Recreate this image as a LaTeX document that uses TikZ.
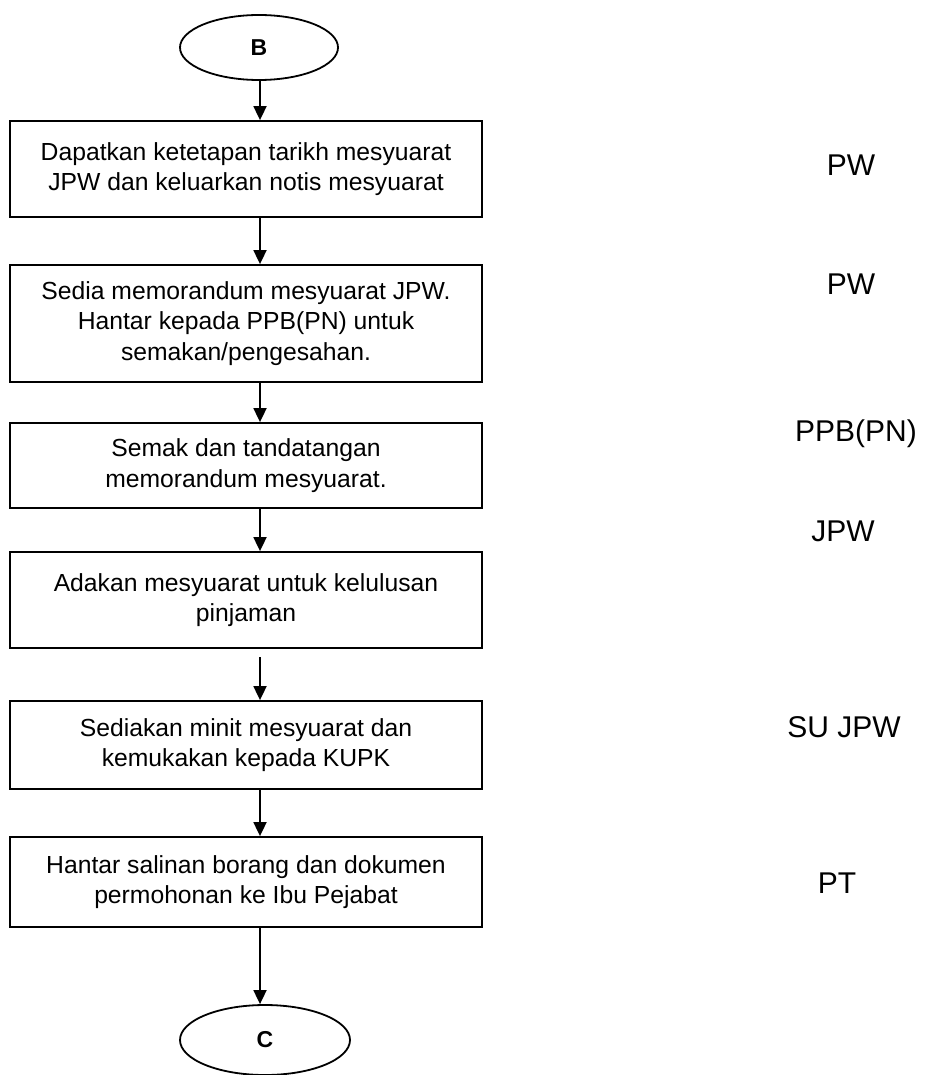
\documentclass[tikz,border=0pt]{standalone}
\usepackage{fontspec}
\setmainfont{Liberation Sans}
\usetikzlibrary{arrows.meta,shapes.geometric}
\begin{document}
\begin{tikzpicture}[x=1pt,y=-1pt,
  box/.style={draw, line width=1.8pt, minimum width=472pt, inner sep=0pt, align=center, font=\fontsize{24.7}{30.5}\selectfont},
  term/.style={draw, ellipse, line width=1.8pt, inner sep=0pt, font=\fontsize{23}{27}\selectfont\bfseries},
  role/.style={anchor=base, inner sep=0pt, font=\fontsize{30}{36}\selectfont},
  arr/.style={line width=1.8pt, -{Triangle[width=13pt,length=14pt]}}
]
\useasboundingbox (0,0) rectangle (926,1075);
\coordinate (ax) at (260,0);
\node[term, minimum width=158pt, minimum height=65pt] (B) at (259,47.5) {B};
\node[box, minimum height=96pt] (b1) at (246,169) {Dapatkan ketetapan tarikh mesyuarat\\JPW dan keluarkan notis mesyuarat};
\node[box, minimum height=117pt] (b2) at (246,323.5) {Sedia memorandum mesyuarat JPW.\\Hantar kepada PPB(PN) untuk\\semakan/pengesahan.};
\node[box, minimum height=85pt] (b3) at (246,465.5) {Semak dan tandatangan\\memorandum mesyuarat.};
\node[box, minimum height=96pt] (b4) at (246,600) {Adakan mesyuarat untuk kelulusan\\pinjaman};
\node[box, minimum height=88pt] (b5) at (246,745) {Sediakan minit mesyuarat dan\\kemukakan kepada KUPK};
\node[box, minimum height=90pt] (b6) at (246,882) {Hantar salinan borang dan dokumen\\permohonan ke Ibu Pejabat};
\node[term, minimum width=170pt, minimum height=70pt] (C) at (265,1040) {C};
\coordinate (s5) at (260,657);
\draw[arr] (B.south -| ax) -- (b1.north -| ax);
\draw[arr] (b1.south -| ax) -- (b2.north -| ax);
\draw[arr] (b2.south -| ax) -- (b3.north -| ax);
\draw[arr] (b3.south -| ax) -- (b4.north -| ax);
\draw[arr] (s5) -- (b5.north -| ax);
\draw[arr] (b5.south -| ax) -- (b6.north -| ax);
\draw[arr] (b6.south -| ax) -- (C.north -| ax);
\node[role] (r1) at (851,176) {PW};
\node[role] (r2) at (851,294) {PW};
\node[role] (r3) at (856,441) {PPB(PN)};
\node[role] (r4) at (843,541) {JPW};
\node[role] (r5) at (844,737) {SU JPW};
\node[role] (r6) at (837,893) {PT};
\end{tikzpicture}
\end{document}
